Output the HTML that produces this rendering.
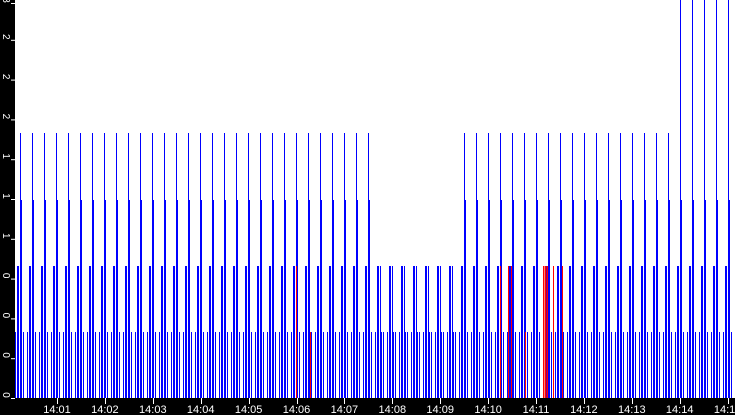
<!DOCTYPE html>
<html><head><meta charset="utf-8"><style>
html,body{margin:0;padding:0;background:#fff;width:735px;height:415px;overflow:hidden}
svg{display:block}
text{font-family:"Liberation Sans",sans-serif;fill:#fff}
</style></head><body>
<svg id="s" width="735" height="415" xmlns="http://www.w3.org/2000/svg">
<rect x="0" y="0" width="735" height="415" fill="#fff"/>
<g id="bars"></g>
<rect x="0" y="0" width="15" height="415" fill="#000"/>
<rect x="0" y="398" width="735" height="17" fill="#000"/>
<g id="axes"></g>
</svg>
<script>
(function(){
var NS="http://www.w3.org/2000/svg";
var bars=document.getElementById("bars"),axes=document.getElementById("axes");
function ln(p,x,y1,y2,c,w){var l=document.createElementNS(NS,"line");l.setAttribute("x1",x);l.setAttribute("x2",x);l.setAttribute("y1",y1);l.setAttribute("y2",y2);l.setAttribute("stroke",c);l.setAttribute("stroke-width",w||1);p.appendChild(l);}
for(var T=19.5;T<735;T+=12.01){
  var t=Math.round(T)+0.5;
  var mid=(t>372&&t<460);
  ln(bars,t-5,398,332,"#00f");
  ln(bars,t-3,398,266,"#00f");
  ln(bars,t-2,398,266,"#00f");
  ln(bars,t+3,398,332,"#00f");
  if(mid){ln(bars,t,398,266,"#00f");ln(bars,t+1,398,332,"#00f");continue;}
  var tallY=t>675?0:133;
  ln(bars,t,398,tallY,"#00f");
  ln(bars,t+1,398,200,"#00f");
}
[[296,266],[310,332],[500,266],[508,266],[511,266],[525,398],[543,266],[545,266],[547,266],[553,266],[562,266]].forEach(function(r){ln(bars,r[0]+0.5,398,r[1],"#f00",r[0]===545?2:1);});
ln(bars,525.5,398,332,"#f00");
var yl=["0","0","0","0","1","1","1","2","2","2","3"];
for(var i=0;i<=10;i++){var y=398-i*39.8;if(i==10)y=3;
  var tk=document.createElementNS(NS,"line");tk.setAttribute("x1",11);tk.setAttribute("x2",15);tk.setAttribute("y1",y+0.5);tk.setAttribute("y2",y+0.5);tk.setAttribute("stroke","#fff");axes.appendChild(tk);
  var tx=document.createElementNS(NS,"text");tx.setAttribute("font-size","10");tx.setAttribute("transform","translate(3,"+(y-3)+") rotate(90)");tx.setAttribute("text-anchor","middle");tx.textContent=yl[i];axes.appendChild(tx);}
for(var m=1;m<=15;m++){var x=57+(m-1)*47.9;
  var tk=document.createElementNS(NS,"line");tk.setAttribute("x1",Math.round(x)+0.5);tk.setAttribute("x2",Math.round(x)+0.5);tk.setAttribute("y1",398);tk.setAttribute("y2",404);tk.setAttribute("stroke","#fff");axes.appendChild(tk);
  var tx=document.createElementNS(NS,"text");tx.setAttribute("font-size","11");tx.setAttribute("x",x);tx.setAttribute("y",413);tx.setAttribute("text-anchor","middle");tx.textContent="14:"+(m<10?"0"+m:m);axes.appendChild(tx);}
})();
</script>
</body></html>
